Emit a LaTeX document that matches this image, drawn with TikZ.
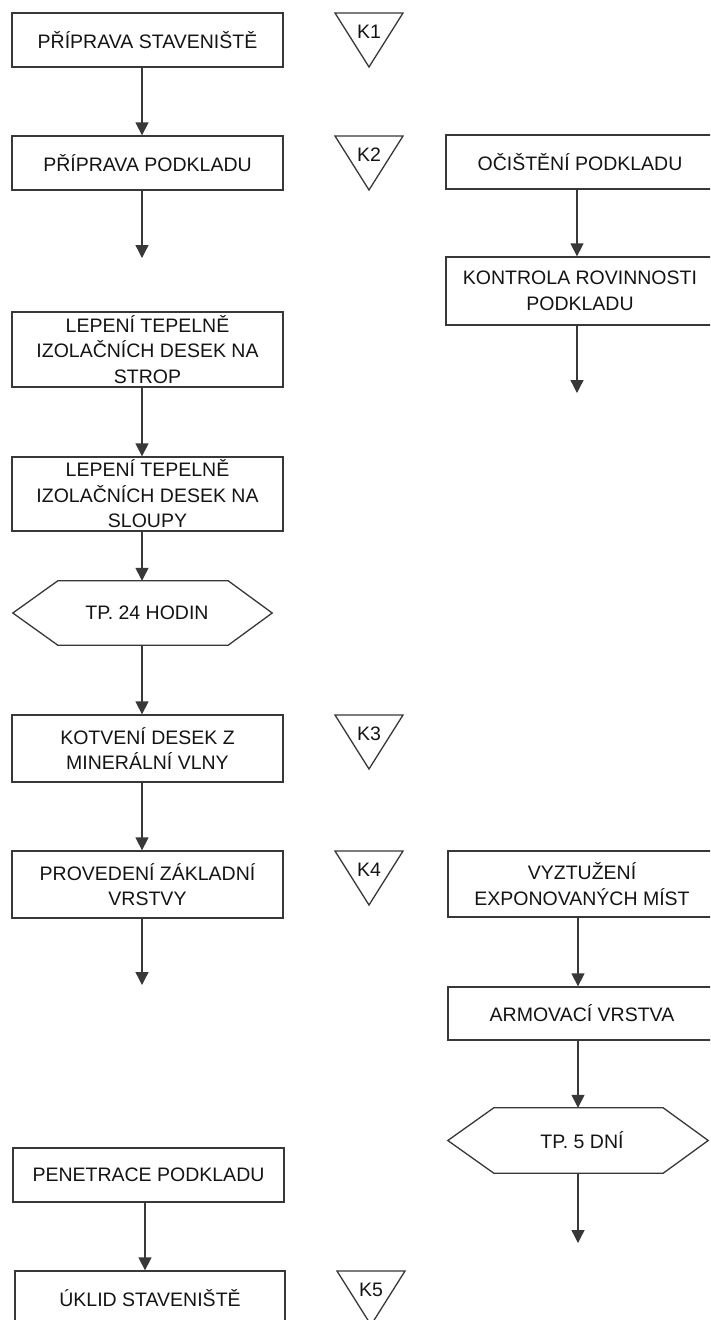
\documentclass[tikz,border=0pt]{standalone}
\usepackage{fontspec}
\setmainfont{Liberation Sans}
\usetikzlibrary{arrows.meta}
\definecolor{ln}{HTML}{383838}
\definecolor{tx}{HTML}{141414}
\tikzset{
  stepbox/.style={draw=ln, line width=1.3pt, fill=white, align=center, inner sep=0pt, text=tx,
    font=\fontsize{19.5}{25.5}\selectfont},
  hexlabel/.style={inner sep=0pt, text=tx, font=\fontsize{19.5}{25.5}\selectfont},
  hexline/.style={draw=ln, line width=1.3pt},
  ktri/.style={draw=ln, line width=1.3pt},
  klabel/.style={inner sep=0pt, text=tx, font=\fontsize{19.5}{22}\selectfont},
  flow/.style={draw=ln, line width=1.3pt, -{Triangle[width=13pt,length=13pt]}},
}
\begin{document}
\begin{tikzpicture}[x=1pt, y=-1pt]
\useasboundingbox (0,0) rectangle (710,1320);
\clip (0,0) rectangle (710,1320);
\fill[white] (0,0) rectangle (710,1320);
% axes
\coordinate (axL) at (142,0);
\coordinate (axLb) at (145,0);
\coordinate (axR) at (577,0);
\coordinate (axRb) at (578,0);
% left column
\node[stepbox, minimum width=271pt, minimum height=54pt] (b1) at (147.5,40) {PŘÍPRAVA STAVENIŠTĚ};
\node[stepbox, minimum width=271pt, minimum height=54pt] (b2) at (147.5,163) {PŘÍPRAVA PODKLADU};
\coordinate (e1) at (142,258);
\node[stepbox, minimum width=271pt, minimum height=75pt] (b3) at (147.5,349.5) {LEPENÍ TEPELNĚ\\IZOLAČNÍCH DESEK NA\\STROP};
\node[stepbox, minimum width=271pt, minimum height=74pt] (b4) at (147.5,494) {LEPENÍ TEPELNĚ\\IZOLAČNÍCH DESEK NA\\SLOUPY};
\node[hexlabel, minimum width=259pt, minimum height=64pt] (h1) at (142.5,613) {\hspace{9pt}TP. 24 HODIN};
\draw[hexline] (h1.west) -- ([xshift=45pt]h1.north west) -- ([xshift=-44pt]h1.north east) -- (h1.east)
  -- ([xshift=-44pt]h1.south east) -- ([xshift=45pt]h1.south west) -- cycle;
\node[stepbox, minimum width=271pt, minimum height=67pt] (b5) at (147.5,748.5) {KOTVENÍ DESEK Z\\MINERÁLNÍ VLNY};
\node[stepbox, minimum width=271pt, minimum height=67pt] (b6) at (147.5,884.5) {PROVEDENÍ ZÁKLADNÍ\\VRSTVY};
\coordinate (e2) at (142,985);
\node[stepbox, minimum width=271pt, minimum height=54pt] (b7) at (148.5,1175) {PENETRACE PODKLADU};
\node[stepbox, minimum width=270pt, minimum height=54pt] (b8) at (150,1298) {ÚKLID STAVENIŠTĚ};
% right column
\node[stepbox, minimum width=268pt, minimum height=54pt] (r1) at (580,162) {OČIŠTĚNÍ PODKLADU};
\node[stepbox, minimum width=268pt, minimum height=68pt] (r2) at (580,291) {KONTROLA ROVINNOSTI\\PODKLADU};
\coordinate (e3) at (577,393);
\node[stepbox, minimum width=268pt, minimum height=66pt] (r3) at (582,884) {VYZTUŽENÍ\\EXPONOVANÝCH MÍST};
\node[stepbox, minimum width=268pt, minimum height=53pt] (r4) at (582,1013.5) {ARMOVACÍ VRSTVA};
\node[hexlabel, minimum width=260pt, minimum height=65pt] (h2) at (578,1140.5) {\hspace{8pt}TP. 5 DNÍ};
\draw[hexline] (h2.west) -- ([xshift=46pt]h2.north west) -- ([xshift=-45pt]h2.north east) -- (h2.east)
  -- ([xshift=-45pt]h2.south east) -- ([xshift=46pt]h2.south west) -- cycle;
\coordinate (e4) at (578,1243);
% checkpoints
\foreach \n/\y/\dx in {1/13/0, 2/136/0, 3/715/0, 4/851/0, 5/1271/2}{
  \draw[ktri] (335+\dx,\y) -- (403+\dx,\y) -- (369+\dx,\y+54) -- cycle;
  \node[klabel] (k\n) at (369+\dx,\y+19) {K\n};
}
% connectors
\draw[flow] (b1.south -| axL) -- (b2.north -| axL);
\draw[flow] (b2.south -| axL) -- (e1);
\draw[flow] (b3.south -| axL) -- (b4.north -| axL);
\draw[flow] (b4.south -| axL) -- (h1.north -| axL);
\draw[flow] (h1.south -| axL) -- (b5.north -| axL);
\draw[flow] (b5.south -| axL) -- (b6.north -| axL);
\draw[flow] (b6.south -| axL) -- (e2);
\draw[flow] (b7.south -| axLb) -- (b8.north -| axLb);
\draw[flow] (r1.south -| axR) -- (r2.north -| axR);
\draw[flow] (r2.south -| axR) -- (e3);
\draw[flow] (r3.south -| axRb) -- (r4.north -| axRb);
\draw[flow] (r4.south -| axRb) -- (h2.north -| axRb);
\draw[flow] (h2.south -| axRb) -- (e4);
\end{tikzpicture}
\end{document}
